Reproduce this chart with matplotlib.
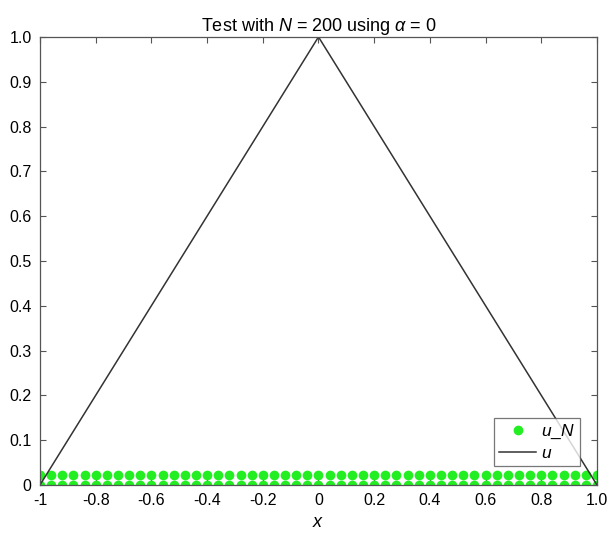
import numpy as np
import matplotlib.pyplot as plt

plt.rcParams['font.family'] = ['Liberation Sans', 'DejaVu Sans']
plt.rcParams['mathtext.fontset'] = 'custom'
plt.rcParams['mathtext.it'] = 'Liberation Sans:italic'
plt.rcParams['mathtext.rm'] = 'Liberation Sans'

# exact solution (hat function)
u_x = [-1.0, 0.0, 1.0]
u_y = [0.0, 1.0, 0.0]

# numerical solution, two rows of points near zero
uN_x = np.linspace(-1.0, 1.0, 51)
uN_low = [0.0] * 51
uN_high = [0.022] * 51

x_ticks = [-1, -0.8, -0.6, -0.4, -0.2, 0, 0.2, 0.4, 0.6, 0.8, 1.0]
x_labels = ['-1', '-0.8', '-0.6', '-0.4', '-0.2', '0', '0.2', '0.4', '0.6', '0.8', '1.0']
y_ticks = [0, 0.1, 0.2, 0.3, 0.4, 0.5, 0.6, 0.7, 0.8, 0.9, 1.0]
y_labels = ['0', '0.1', '0.2', '0.3', '0.4', '0.5', '0.6', '0.7', '0.8', '0.9', '1.0']

fig = plt.figure(figsize=(6.1, 5.43), dpi=100)
ax = fig.add_axes([0.0656, 0.107, 0.913, 0.825])

green = '#22ee22'
ax.plot(uN_x, uN_high, 'o', color=green, markersize=7, markeredgewidth=0)
ax.plot(uN_x, uN_low, 'o', color=green, markersize=7, markeredgewidth=0,
        label='$u$_$N$')
ax.plot(u_x, u_y, '-', color='#333333', linewidth=1.1, label='$u$')

ax.set_xlim(-1, 1)
ax.set_ylim(0, 1)
ax.set_xticks(x_ticks)
ax.set_xticklabels(x_labels)
ax.set_yticks(y_ticks)
ax.set_yticklabels(y_labels)
ax.tick_params(direction='in', top=True, right=True, labelsize=11.5,
               length=4, width=0.8, color='#555555', pad=6)
for s in ax.spines.values():
    s.set_color('#555555')
    s.set_linewidth(0.9)

ax.set_title(r'Test with $N$ = 200 using $\alpha$ = 0', fontsize=13, pad=4)
ax.set_xlabel('$x$', fontsize=13)

leg = ax.legend(loc='lower right', bbox_to_anchor=(0.97, 0.042), fontsize=12.5,
                frameon=True, fancybox=False, edgecolor='#555555',
                borderpad=0.3, handlelength=2.1, handletextpad=0.3,
                labelspacing=0.25, borderaxespad=0)
leg.get_frame().set_linewidth(0.9)

fig.savefig('out.png', dpi=100)
